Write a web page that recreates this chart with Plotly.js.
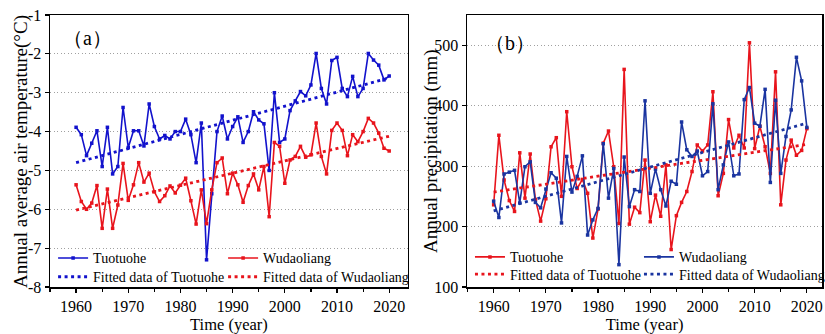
<!DOCTYPE html>
<html><head><meta charset="utf-8">
<script src="https://cdn.plot.ly/plotly-3.0.1.min.js"></script>
<style>html,body{margin:0;padding:0;background:#fff}#chart{width:825px;height:334px}</style>
</head><body><div id="chart"></div>
<script>
const years = [1960,1961,1962,1963,1964,1965,1966,1967,1968,1969,1970,1971,1972,1973,1974,1975,1976,1977,1978,1979,1980,1981,1982,1983,1984,1985,1986,1987,1988,1989,1990,1991,1992,1993,1994,1995,1996,1997,1998,1999,2000,2001,2002,2003,2004,2005,2006,2007,2008,2009,2010,2011,2012,2013,2014,2015,2016,2017,2018,2019,2020];

// (a) annual average air temperature (°C)
const tuotuoheTemp = [-3.89,-4.08,-4.62,-4.30,-3.98,-4.90,-3.89,-5.09,-4.90,-3.38,-4.41,-3.98,-3.98,-4.37,-3.29,-3.87,-4.19,-4.10,-4.19,-4.00,-4.00,-3.68,-4.08,-4.80,-3.78,-7.30,-5.60,-4.00,-3.60,-4.19,-3.87,-3.62,-4.28,-4.00,-3.49,-3.70,-3.80,-5.00,-3.00,-4.28,-4.19,-3.46,-3.21,-2.97,-3.08,-2.80,-1.99,-2.89,-3.29,-2.17,-2.09,-2.89,-3.10,-2.58,-3.10,-2.89,-1.99,-2.16,-2.29,-2.67,-2.57];
const wudaoliangTemp = [-5.37,-5.80,-6.00,-5.84,-5.39,-6.49,-5.48,-6.49,-5.89,-4.82,-5.77,-5.37,-4.80,-5.30,-5.07,-5.55,-5.80,-5.65,-5.40,-5.58,-5.38,-5.20,-5.78,-6.38,-5.50,-6.37,-5.50,-4.80,-4.68,-5.60,-5.07,-5.37,-5.82,-5.39,-5.09,-5.50,-4.90,-6.19,-4.28,-4.38,-5.33,-4.73,-4.64,-4.38,-4.66,-4.60,-3.78,-4.64,-5.09,-3.97,-3.78,-3.97,-4.62,-4.08,-4.26,-4.00,-3.66,-3.78,-4.04,-4.43,-4.50];

// (b) annual precipitation (mm)
const tuotuohePrec = [236,351,277,243,225,322,247,320,245,209,246,332,347,250,390,299,263,278,255,181,229,338,358,299,205,460,204,232,223,310,208,252,217,302,162,218,240,258,291,335,325,335,423,251,288,377,330,351,330,504,329,366,332,288,456,236,310,343,318,326,362];
const wudaoliangPrec = [242,215,287,290,293,239,299,307,240,231,262,289,280,206,316,257,283,317,186,211,230,337,247,296,137,315,233,261,258,408,255,295,261,234,275,270,373,327,316,325,284,291,403,261,302,340,284,287,410,430,371,366,427,273,409,288,349,393,480,441,364];

// fitted trend lines (end points)
const fitYears = [1960, 2020];
const tuotuoheTempFit = [-4.80, -2.62];
const wudaoliangTempFit = [-6.02, -4.12];
const tuotuohePrecFit = [257, 336];
const wudaoliangPrecFit = [226, 371];

const xTicks = [1960,1970,1980,1990,2000,2010,2020];
const tempTicks = [-8,-7,-6,-5,-4,-3,-2,-1];
const tempTickLabels = ['-8','-7','-6','-5','-4','-3','-2','-1'];
const precTicks = [100,200,300,400,500];

const BLUE_A = '#1212cc', BLUE_B = '#1a34a0', RED = '#e8141c';
const FONT = 'Liberation Serif, Times New Roman, serif';

function solid(name, x, y, color, xa, ya, leg, lw) {
  return {type:'scatter', mode:'lines+markers', name, x, y, xaxis:xa, yaxis:ya, legend:leg, legendwidth:lw,
    line:{color, width:1.6}, marker:{color, size:3.5, symbol:'square'}};
}
function dotted(name, x, y, color, xa, ya, leg, lw) {
  return {type:'scatter', mode:'lines', name, x, y, xaxis:xa, yaxis:ya, legend:leg, legendwidth:lw,
    line:{color, width:2.8, dash:'3px,3.5px'}};
}

const data = [
  solid('Tuotuohe', years, tuotuoheTemp, BLUE_A, 'x', 'y', 'legend', 125),
  solid('Wudaoliang', years, wudaoliangTemp, RED, 'x', 'y', 'legend', 150),
  dotted('Fitted data of Tuotuohe', fitYears, tuotuoheTempFit, BLUE_A, 'x', 'y', 'legend2', 125),
  dotted('Fitted data of Wudaoliang', fitYears, wudaoliangTempFit, RED, 'x', 'y', 'legend2', 150),
  solid('Tuotuohe', years, tuotuohePrec, RED, 'x2', 'y2', 'legend3', 124),
  solid('Wudaoliang', years, wudaoliangPrec, BLUE_B, 'x2', 'y2', 'legend3', 142),
  dotted('Fitted data of Tuotuohe', fitYears, tuotuohePrecFit, RED, 'x2', 'y2', 'legend4', 124),
  dotted('Fitted data of Wudaoliang', fitYears, wudaoliangPrecFit, BLUE_B, 'x2', 'y2', 'legend4', 142)
];

const xCommon = {
  tickvals: xTicks, ticks:'outside', ticklen:4, tickwidth:1.2, tickcolor:'#000',
  showline:true, linewidth:1.5, linecolor:'#000', mirror:true,
  showgrid:false, zeroline:false, tickfont:{size:16},
  minor:{dtick:5, tick0:1960, ticks:'outside', ticklen:3, tickcolor:'#000', showgrid:false},
  title:{text:'Time (year)', font:{size:16.5}, standoff:4}
};
const yCommon = {
  ticks:'outside', ticklen:4, tickwidth:1.2, tickcolor:'#000',
  showline:true, linewidth:1.5, linecolor:'#000', mirror:true,
  showgrid:true, gridcolor:'#a0a0a0', gridwidth:1, griddash:'1px,2.5px',
  zeroline:false, tickfont:{size:16}
};
const legCommon = {orientation:'h', xanchor:'left', yanchor:'top', entrywidthmode:'pixels',
  bgcolor:'rgba(0,0,0,0)', font:{size:14, family:FONT, color:'#000'}};

const layout = {
  width:825, height:334,
  margin:{l:50, r:3, t:15, b:47, autoexpand:false},
  paper_bgcolor:'#fff', plot_bgcolor:'#fff',
  font:{family:FONT, color:'#000', size:16},
  showlegend:true,
  xaxis:Object.assign({}, xCommon, {domain:[0,0.4637], range:[1955,2023.6], anchor:'y'}),
  yaxis:Object.assign({}, yCommon, {domain:[0,1], range:[-8,-1], tickvals:tempTicks, ticktext:tempTickLabels, anchor:'x'}),
  xaxis2:Object.assign({}, xCommon, {domain:[0.5402,1], range:[1954.9,2022.9], anchor:'y2'}),
  yaxis2:Object.assign({}, yCommon, {domain:[0,1], range:[100,550], tickvals:precTicks, anchor:'x2'}),
  legend:Object.assign({}, legCommon, {x:0.004, y:0.164}),
  legend2:Object.assign({}, legCommon, {x:0.004, y:0.095}),
  legend3:Object.assign({}, legCommon, {x:0.544, y:0.168}),
  legend4:Object.assign({}, legCommon, {x:0.544, y:0.105}),
  annotations:[
    {text:'（a）', xref:'x domain', yref:'y domain', x:0.03, y:0.914, xanchor:'left', yanchor:'middle',
     showarrow:false, font:{size:20, family:FONT}},
    {text:'（b）', xref:'x2 domain', yref:'y2 domain', x:0.045, y:0.897, xanchor:'left', yanchor:'middle',
     showarrow:false, font:{size:20, family:FONT}},
    {text:'Annual average air temperature(°C)', xref:'paper', yref:'paper', x:-0.0376, y:0.5,
     xanchor:'center', yanchor:'middle', textangle:-90, showarrow:false, font:{size:19, family:FONT}},
    {text:'Annual precipitation (mm)', xref:'paper', yref:'paper', x:0.4935, y:0.5,
     xanchor:'center', yanchor:'middle', textangle:-90, showarrow:false, font:{size:19, family:FONT}}
  ]
};

Plotly.newPlot('chart', data, layout, {displayModeBar:false, staticPlot:true});
</script>
</body></html>
